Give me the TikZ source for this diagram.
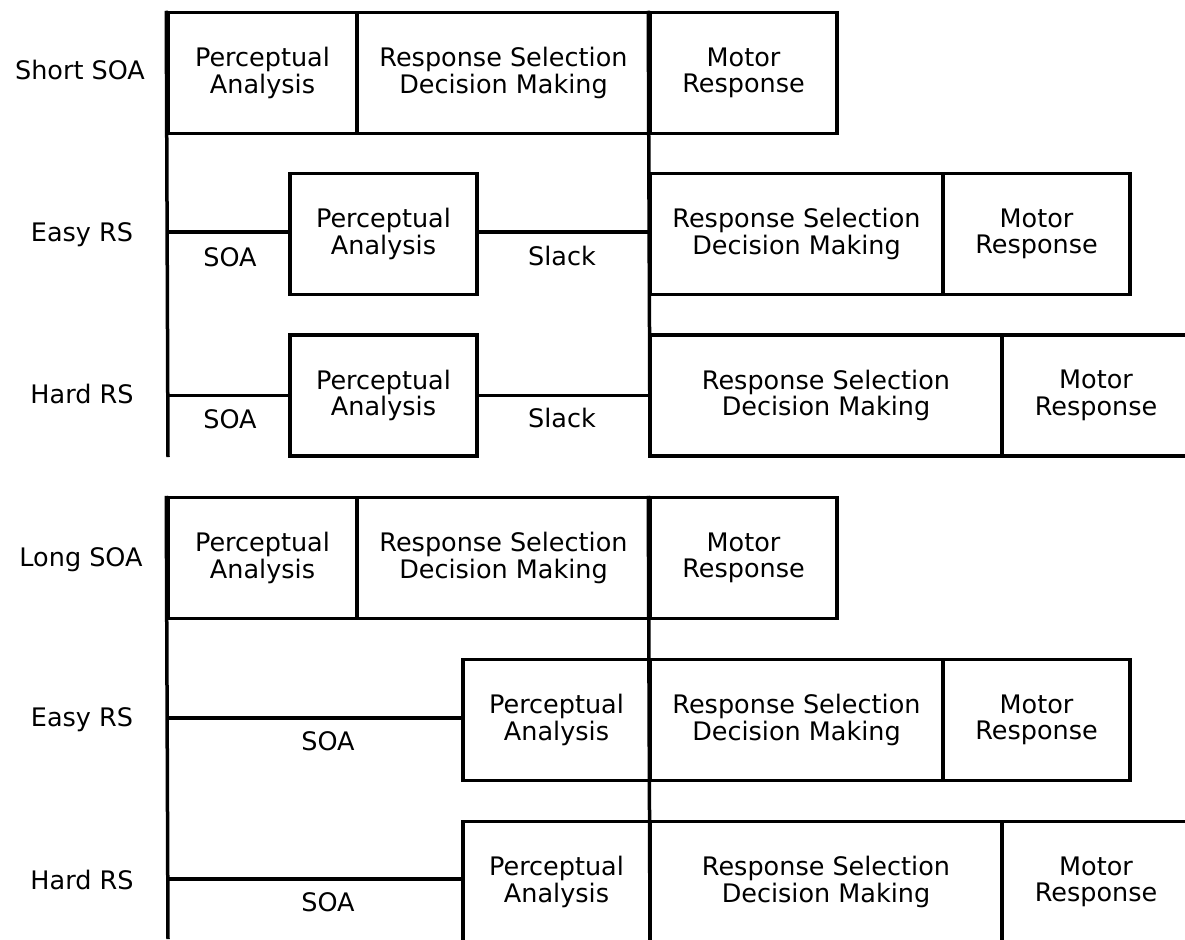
\documentclass[tikz,border=0pt]{standalone}
\usepackage{fontspec}
\setmainfont{DejaVu Sans}
\begin{document}
\begin{tikzpicture}[x=1pt,y=-1pt,
  lw/.style={line width=3.5pt},
  stagebox/.style={draw, lw, rectangle, inner sep=0pt, align=center, minimum height=121pt},
  lbl/.style={anchor=base, inner sep=0pt},
  font=\fontsize{25.5}{26.5}\selectfont]
\useasboundingbox (0,0) rectangle (1185,939);
\fill[white] (0,0) rectangle (1185,939);

% ---------- Panel 1 ----------
\node[stagebox, minimum width=189pt] (sp) at (262.5,73) {Perceptual\\Analysis};
\node[stagebox, minimum width=293pt] (sr) at (503.5,73) {Response Selection\\Decision Making};
\node[stagebox, minimum width=187pt] (sm) at (743.5,73) {Motor\\Response};

\node[stagebox, minimum width=187pt] (ep1) at (383.5,234) {Perceptual\\Analysis};
\node[stagebox, minimum width=293pt] (er1) at (796.5,234) {Response Selection\\Decision Making};
\node[stagebox, minimum width=187pt] (em1) at (1036.5,234) {Motor\\Response};

\node[stagebox, minimum width=187pt] (hp1) at (383.5,395.5) {Perceptual\\Analysis};
\node[stagebox, minimum width=352pt] (hr1) at (826,395.5) {Response Selection\\Decision Making};
\node[stagebox, minimum width=188pt] (hm1) at (1096,395.5) {Motor\\Response};

\coordinate (b1) at (168,457);
\coordinate (m1) at (650,457);
\draw[lw] (sp.north west) -- (b1);
\draw[lw] (sm.north west) -- (m1);
\draw[lw] ([yshift=2pt]ep1.west) -- ([yshift=2pt]ep1.west -| b1);
\draw[lw] ([yshift=2pt]ep1.east) -- ([yshift=2pt]er1.west);
\draw[lw] (hp1.west) -- (hp1.west -| b1);
\draw[lw] (hp1.east) -- (hr1.west);

\node[lbl] (tShort) at (80,80) {Short SOA};
\node[lbl] (tEasy1) at (82,241) {Easy RS};
\node[lbl] (tHard1) at (82,403) {Hard RS};
\node[lbl] (soa1) at (230,266) {SOA};
\node[lbl] (slack1) at (562,265) {Slack};
\node[lbl] (soa2) at (230,428) {SOA};
\node[lbl] (slack2) at (562,427) {Slack};

% ---------- Panel 2 ----------
\node[stagebox, minimum width=189pt] (lp) at (262.5,558) {Perceptual\\Analysis};
\node[stagebox, minimum width=293pt] (lr) at (503.5,558) {Response Selection\\Decision Making};
\node[stagebox, minimum width=187pt] (lm) at (743.5,558) {Motor\\Response};

\node[stagebox, minimum width=187pt] (ep2) at (556.5,720) {Perceptual\\Analysis};
\node[stagebox, minimum width=293pt] (er2) at (796.5,720) {Response Selection\\Decision Making};
\node[stagebox, minimum width=187pt] (em2) at (1036.5,720) {Motor\\Response};

\node[stagebox, minimum width=187pt] (hp2) at (556.5,882) {Perceptual\\Analysis};
\node[stagebox, minimum width=352pt] (hr2) at (826,882) {Response Selection\\Decision Making};
\node[stagebox, minimum width=188pt] (hm2) at (1096,882) {Motor\\Response};

\coordinate (b2) at (168,939);
\coordinate (m2) at (650,939);
\draw[lw] (lp.north west) -- (b2);
\draw[lw] (lm.north west) -- (m2);
\draw[lw] ([yshift=2pt]ep2.west) -- ([yshift=2pt]ep2.west -| b2);
\draw[lw] ([yshift=3pt]hp2.west) -- ([yshift=3pt]hp2.west -| b2);

\node[lbl] (tLong) at (81,566) {Long SOA};
\node[lbl] (tEasy2) at (82,726) {Easy RS};
\node[lbl] (tHard2) at (82,889) {Hard RS};
\node[lbl] (soa3) at (328,750) {SOA};
\node[lbl] (soa4) at (328,911) {SOA};
\end{tikzpicture}
\end{document}
